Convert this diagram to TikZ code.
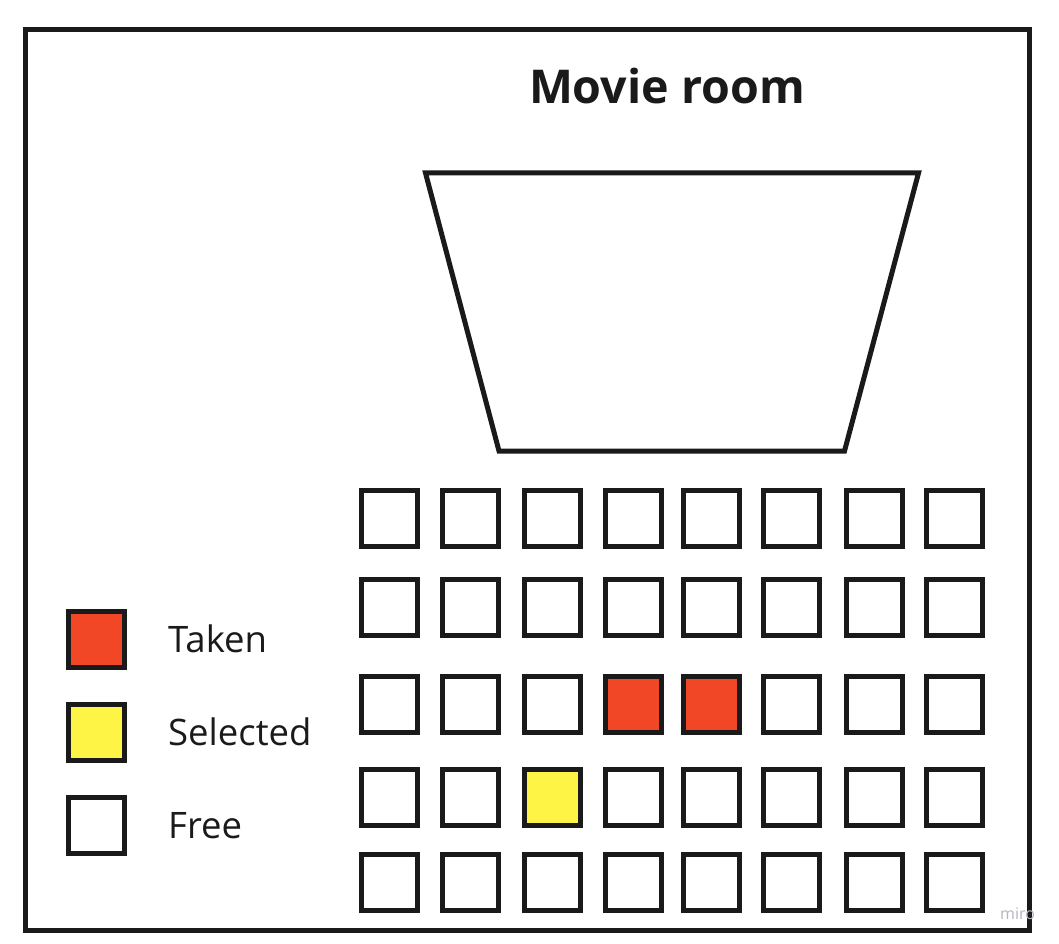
\documentclass[tikz,border=0pt]{standalone}
\usepackage{fontspec}
\setmainfont{Open Sans}
\definecolor{ink}{HTML}{1A1A1A}
\definecolor{taken}{HTML}{F24726}
\definecolor{selected}{HTML}{FEF445}
\definecolor{wm}{HTML}{B4B4C4}
\begin{document}
\begin{tikzpicture}[x=1pt,y=-1pt,
  seat/.style={draw=ink,line width=5pt,fill=white,minimum size=56pt,inner sep=0pt,outer sep=0pt},
  frame/.style={draw=ink,line width=5pt,line join=miter},
  legendtext/.style={anchor=base west,font=\fontsize{36.5}{40}\selectfont,text=ink,inner sep=0pt}]
\useasboundingbox (0,0) rectangle (1059,944);
\fill[white] (0,0) rectangle (1059,944);
% outer frame
\draw[frame] (25.7,29.5) rectangle (1029.5,930.8);
% title
\node[anchor=base,font=\fontsize{46.6}{50}\selectfont\bfseries,text=ink,inner sep=0pt] (title) at (667,103.3) {Movie room};
% screen
\draw[frame] (425.5,173) -- (918.5,173) -- (844.5,451) -- (499,451) -- cycle;
% seats
\foreach \r/\y in {1/518.3,2/607.2,3/704.2,4/797.5,5/882.7}{
  \foreach \c/\x in {1/389.8,2/470.5,3/552.8,4/633.5,5/711.2,6/791.8,7/874.3,8/954.8}{
    \node[seat] (s\r\c) at (\x,\y) {};
  }
}
\node[seat,fill=taken] at (s34) {};
\node[seat,fill=taken] at (s35) {};
\node[seat,fill=selected] at (s43) {};
% legend
\node[seat,fill=taken] (ltaken) at (96.7,639.3) {};
\node[seat,fill=selected] (lsel) at (96.7,732.5) {};
\node[seat] (lfree) at (96.7,825.8) {};
\node[legendtext] (ttaken) at (168,652) {Taken};
\node[legendtext] (tsel) at (168,745.5) {Selected};
\node[legendtext] (tfree) at (168,838.5) {Free};
% watermark
\node[anchor=base west,font=\fontsize{16}{18}\selectfont,text=wm,inner sep=0pt] (wmark) at (1000,919) {miro};
\end{tikzpicture}
\end{document}
